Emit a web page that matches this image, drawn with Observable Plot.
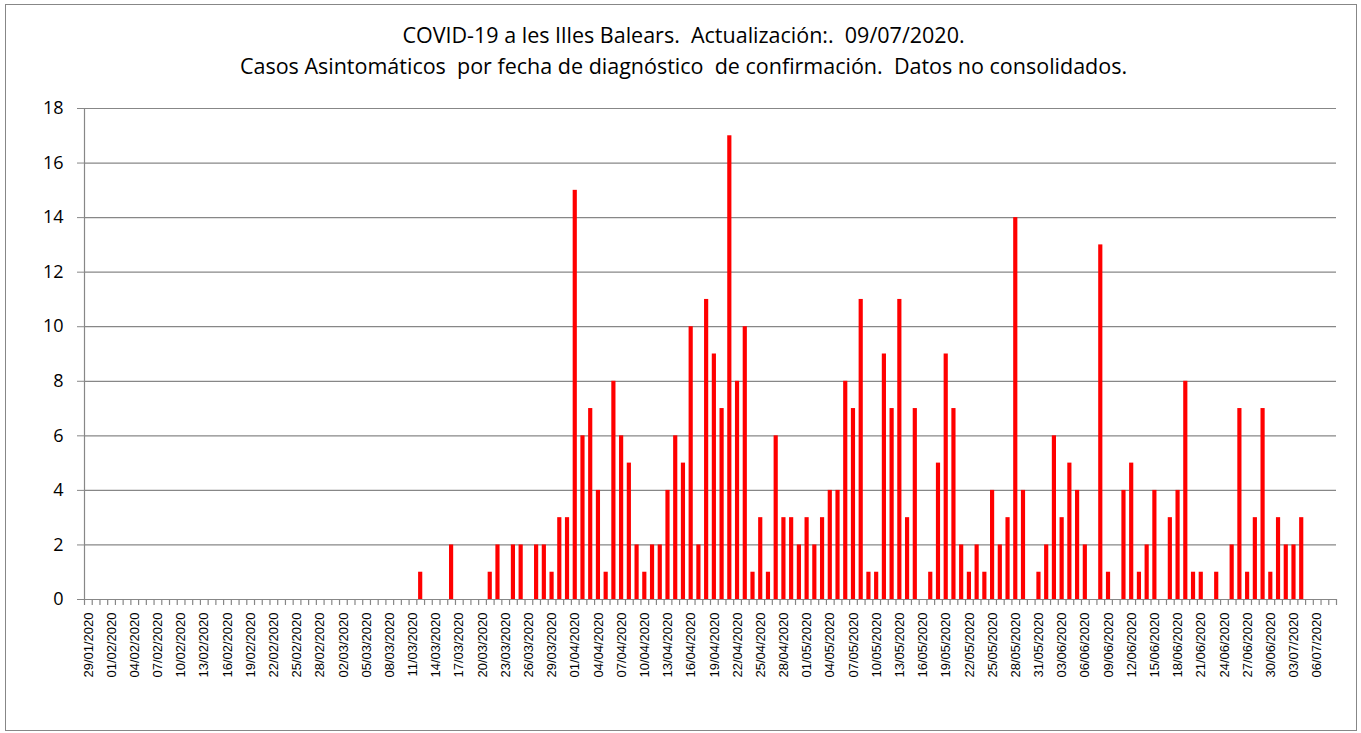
<!DOCTYPE html>
<html>
<head>
<meta charset="utf-8">
<script src="https://cdn.jsdelivr.net/npm/d3@7"></script>
<script src="https://cdn.jsdelivr.net/npm/@observablehq/plot@0.6"></script>
<style>
  body { margin: 0; background: #fff; }
  #wrap { position: relative; width: 1361px; height: 733px; overflow: hidden; }
  #border { position: absolute; left: 5px; top: 4px; width: 1350px; height: 725px; border: 1.5px solid #878787; box-sizing: content-box; }
  .t { position: absolute; left: 3px; width: 1361px; text-align: center; font-family: "Open Sans", sans-serif; font-size: 21.5px; color: #000; white-space: pre; line-height: 28px; }
  #chart { position: absolute; left: 0; top: 90px; }
</style>
</head>
<body>
<div id="wrap">
  <div id="border"></div>
  <div class="t" id="t1" style="top:21px"></div>
  <div class="t" id="t2" style="top:52px"></div>
  <div id="chart"></div>
</div>
<script>
// ---- Text ----
const titulo = "COVID-19 a les Illes Balears.  Actualización:.  09/07/2020.";
const subtitulo = "Casos Asintomáticos  por fecha de diagnóstico  de confirmación.  Datos no consolidados.";

// ---- Categories: daily dates 29/01/2020 .. 08/07/2020 ----
const fechaInicio = "2020-01-29";
const fechaFin = "2020-07-09"; // exclusive
const fechas = d3.utcDay.range(new Date(fechaInicio), new Date(fechaFin));

// ---- Series values (asymptomatic cases per day), by month ----
const casosEne = [0, 0, 0]; // 29-31 Jan
const casosFeb = [0,0,0,0,0,0,0,0,0,0, 0,0,0,0,0,0,0,0,0,0, 0,0,0,0,0,0,0,0,0];
const casosMar = [0,0,0,0,0,0,0,0,0,0, 0,1,0,0,0,2,0,0,0,0, 1,2,0,2,2,0,2,2,1,3, 3];
const casosAbr = [15,6,7,4,1,8,6,5,2,1, 2,2,4,6,5,10,2,11,9,7, 17,8,10,1,3,1,6,3,3,2];
const casosMay = [3,2,3,4,4,8,7,11,1,1, 9,7,11,3,7,0,1,5,9,7, 2,1,2,1,4,2,3,14,4,0, 1];
const casosJun = [2,6,3,5,4,2,0,13,1,0, 4,5,1,2,4,0,3,4,8,1, 1,0,1,0,2,7,1,3,7,1];
const casosJul = [3,2,2,3,0,0,0,0]; // 1-8 Jul

const casos = [...casosEne, ...casosFeb, ...casosMar, ...casosAbr, ...casosMay, ...casosJun, ...casosJul];

// ---- Ticks ----
const yTicks = [0, 2, 4, 6, 8, 10, 12, 14, 16, 18];
const fmt = d3.utcFormat("%d/%m/%Y");
const xTicks = fechas.filter((d, i) => i % 3 === 0);

const datos = fechas.map((f, i) => ({fecha: f, casos: casos[i]}));

document.getElementById("t1").textContent = titulo;
document.getElementById("t2").textContent = subtitulo;

const W = 1361, H = 640, mL = 84, mR = 25, mT = 18, mB = 131;
const step = (W - mL - mR) / fechas.length;
const gris = "#878787";

const chart = Plot.plot({
  width: W,
  height: H,
  marginLeft: mL,
  marginRight: mR,
  marginTop: mT,
  marginBottom: mB,
  style: {background: "transparent"},
  x: {type: "band", domain: fechas, paddingInner: 0.46, paddingOuter: 0.23, axis: null, label: null},
  y: {domain: [0, 18], axis: null, label: null},
  marks: [
    Plot.gridY(yTicks, {stroke: gris, strokeOpacity: 1, strokeWidth: 1.2}),
    Plot.barY(datos, {x: "fecha", y: "casos", fill: "#ff0000"}),
    Plot.ruleY([0], {stroke: gris, strokeWidth: 1.2}),
    Plot.ruleX([fechas[0]], {dx: -step / 2, stroke: gris, strokeWidth: 1.2}),
    Plot.ruleX(fechas, {x: d => d, y1: 0, y2: 0, insetBottom: -6, dx: -step / 2, stroke: gris, strokeWidth: 1.2}),
    Plot.ruleX([fechas[fechas.length - 1]], {y1: 0, y2: 0, insetBottom: -6, dx: step / 2, stroke: gris, strokeWidth: 1.2}),
    Plot.axisY(yTicks, {label: null, tickSize: 7, tickPadding: 14, fontSize: 18, fontFamily: "Open Sans", stroke: gris, fill: "#000"}),
    Plot.axisX(xTicks, {label: null, tickSize: 0, tickPadding: 13, tickRotate: -90, tickFormat: fmt, fontSize: 13, fontFamily: "Liberation Sans", fill: "#000"})
  ]
});
document.getElementById("chart").appendChild(chart);
</script>
</body>
</html>
